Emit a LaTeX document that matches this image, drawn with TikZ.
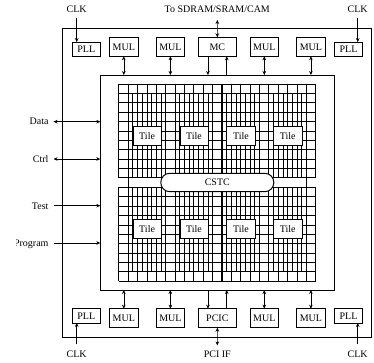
\documentclass[tikz,border=0pt]{standalone}
\usepackage{fontspec}
\setmainfont{Liberation Serif}
\usetikzlibrary{arrows.meta, positioning, calc}
\tikzstyle{blockbox} = [draw, rectangle, line width=0.8pt, minimum width=28.3pt, minimum height=19pt, inner sep=0pt, outer sep=0pt, text centered, fill=white]
\tikzstyle{pllbox} = [blockbox, minimum height=14.3pt]
\tikzstyle{ctrlbox} = [blockbox, minimum width=38pt]
\tikzstyle{tilebox} = [draw, rectangle, line width=0.6pt, minimum width=28.3pt, minimum height=18.7pt, inner sep=0pt, outer sep=0pt, fill=white]
\tikzstyle{sigtext} = [inner sep=0pt, outer sep=6pt, text height=6.6pt, text depth=0pt]
\tikzstyle{arrw} = [line width=0.6pt, -{Stealth[length=4pt, width=3.6pt]}]
\tikzstyle{biarrw} = [line width=0.6pt, {Stealth[length=4pt, width=3.6pt]}-{Stealth[length=4pt, width=3.6pt]}]
\tikzstyle{wire} = [line width=0.55pt]
\tikzstyle{vwire} = [line width=0.6pt]
\tikzstyle{heavywire} = [line width=0.9pt]

\begin{document}
\begin{tikzpicture}[x=1pt, y=-1pt]
    \useasboundingbox (0,0) rectangle (374,363);

    \node (chip) [draw, rectangle, line width=0.9pt, minimum width=309pt, minimum height=309pt, inner sep=0pt, outer sep=0pt] at (217.1,182.5) {};
    \node (fabric) [draw, rectangle, line width=0.9pt, minimum width=234pt, minimum height=215pt, inner sep=0pt, outer sep=0pt] at (217.3,182.5) {};

    % Top row
    \node (mula) [blockbox] at (123.8,46.8) {MUL};
    \node (mulb) [blockbox, right=18.3pt of mula] {MUL};
    \node (mc) [ctrlbox, right=13.8pt of mulb] {MC};
    \node (mulc) [blockbox, right=13.8pt of mc] {MUL};
    \node (muld) [blockbox, right=18.3pt of mulc] {MUL};
    \node (pllb) [pllbox] at (86.3,49.2) {PLL};
    \node (pllc) [pllbox] at (348.5,49.2) {PLL};

    % Bottom row
    \node (mule) [blockbox] at (123.8,318.2) {MUL};
    \node (mulf) [blockbox, right=18.3pt of mule] {MUL};
    \node (pcic) [ctrlbox, right=13.8pt of mulf] {PCIC};
    \node (mulg) [blockbox, right=13.8pt of pcic] {MUL};
    \node (mulh) [blockbox, right=18.3pt of mulg] {MUL};
    \node (plld) [pllbox] at (86.3,315.8) {PLL};
    \node (plle) [pllbox] at (348.5,315.8) {PLL};

    % Grid
    \foreach \j in {0,...,10} {
        \draw [wire] (118.7,84+9.37*\j) -- (315.7,84+9.37*\j);
        \draw [wire] (118.7,187.3+9.37*\j) -- (315.7,187.3+9.37*\j);
    }
    \foreach \i in {0,...,21} {
        \draw [vwire] (118.7+9.38*\i,84) -- (118.7+9.38*\i,177.7);
        \draw [vwire] (118.7+9.38*\i,187.3) -- (118.7+9.38*\i,281);
    }
    \foreach \i in {1,5,11,16,20} {
        \draw [heavywire] (118.7+9.38*\i,84) -- (118.7+9.38*\i,281);
    }
    \foreach \b in {1,6,11,16} {
        \foreach \k in {0,1,2,3} {
            \draw [vwire] (118.7+9.38*\b+9.38*\k+4.69,93.4) -- (118.7+9.38*\b+9.38*\k+4.69,177.7);
            \draw [vwire] (118.7+9.38*\b+9.38*\k+4.69,187.3) -- (118.7+9.38*\b+9.38*\k+4.69,271.6);
        }
    }

    % Tiles
    \node (tilea) [tilebox] at (147.1,135.7) {Tile};
    \node (tileb) [tilebox] at (194,135.7) {Tile};
    \node (tilec) [tilebox] at (240.9,135.7) {Tile};
    \node (tiled) [tilebox] at (287.8,135.7) {Tile};
    \node (tilee) [tilebox] at (147.1,228.8) {Tile};
    \node (tilef) [tilebox] at (194,228.8) {Tile};
    \node (tileg) [tilebox] at (240.9,228.8) {Tile};
    \node (tileh) [tilebox] at (287.8,228.8) {Tile};
    \node (cstc) [draw, rectangle, rounded corners=9pt, line width=1pt, minimum width=113pt, minimum height=18.4pt, inner sep=0pt, outer sep=0pt, fill=white] at (217.3,182.5) {CSTC};

    % Signal labels
    \node (clka) [sigtext] at (76.7,9.2) {CLK};
    \node (clkb) [sigtext] at (357.7,9.2) {CLK};
    \node (clkc) [sigtext] at (76.7,353.7) {CLK};
    \node (clkd) [sigtext] at (357.7,353.7) {CLK};
    \node (sdram) [sigtext, outer sep=7.5pt] at (217.3,9.2) {To SDRAM/SRAM/CAM};
    \node (pciif) [sigtext, outer sep=5pt] at (217.3,353.7) {PCI IF};
    \node (data) [sigtext, left, outer sep=5pt] at (53.5,121.7) {Data};
    \node (ctrl) [sigtext, left, outer sep=5pt] at (53.5,159) {Ctrl};
    \node (test) [sigtext, left, outer sep=5pt] at (53.5,205.7) {Test};
    \begin{scope}
        \clip (16,230) rectangle (60,256);
        \node (program) [sigtext, left, outer sep=5pt] at (53.5,243) {Program};
    \end{scope}

    \coordinate (mcdown) at ($(mc.south)+(-9.4,0)$);
    \coordinate (mcup) at ($(mc.south)+(9.4,0)$);
    \coordinate (pcicup) at ($(pcic.north)+(-9.4,0)$);
    \coordinate (pcicdown) at ($(pcic.north)+(9.4,0)$);

    % Clock inputs
    \draw [arrw] (clka) -- (clka |- pllb.north);
    \draw [arrw] (clkb) -- (clkb |- pllc.north);
    \draw [arrw] (clkc) -- (clkc |- plld.south);
    \draw [arrw] (clkd) -- (clkd |- plle.south);

    % Top connections
    \draw [biarrw] (mula) -- (mula |- fabric.north);
    \draw [biarrw] (mulb) -- (mulb |- fabric.north);
    \draw [biarrw] (mulc) -- (mulc |- fabric.north);
    \draw [biarrw] (muld) -- (muld |- fabric.north);
    \draw [biarrw] (sdram) -- (mc);
    \draw [arrw] (mcdown) -- (mcdown |- fabric.north);
    \draw [arrw] (mcup |- fabric.north) -- (mcup);

    % Bottom connections
    \draw [biarrw] (mule) -- (mule |- fabric.south);
    \draw [biarrw] (mulf) -- (mulf |- fabric.south);
    \draw [biarrw] (mulg) -- (mulg |- fabric.south);
    \draw [biarrw] (mulh) -- (mulh |- fabric.south);
    \draw [biarrw] (pciif) -- (pcic);
    \draw [arrw] (pcicup |- fabric.south) -- (pcicup);
    \draw [arrw] (pcicdown) -- (pcicdown |- fabric.south);

    % Left side signals
    \draw [biarrw] (data) -- (data -| fabric.west);
    \draw [biarrw] (ctrl) -- (ctrl -| fabric.west);
    \draw [arrw] (test) -- (test -| fabric.west);
    \draw [arrw] (program) -- (program -| fabric.west);
\end{tikzpicture}
\end{document}
